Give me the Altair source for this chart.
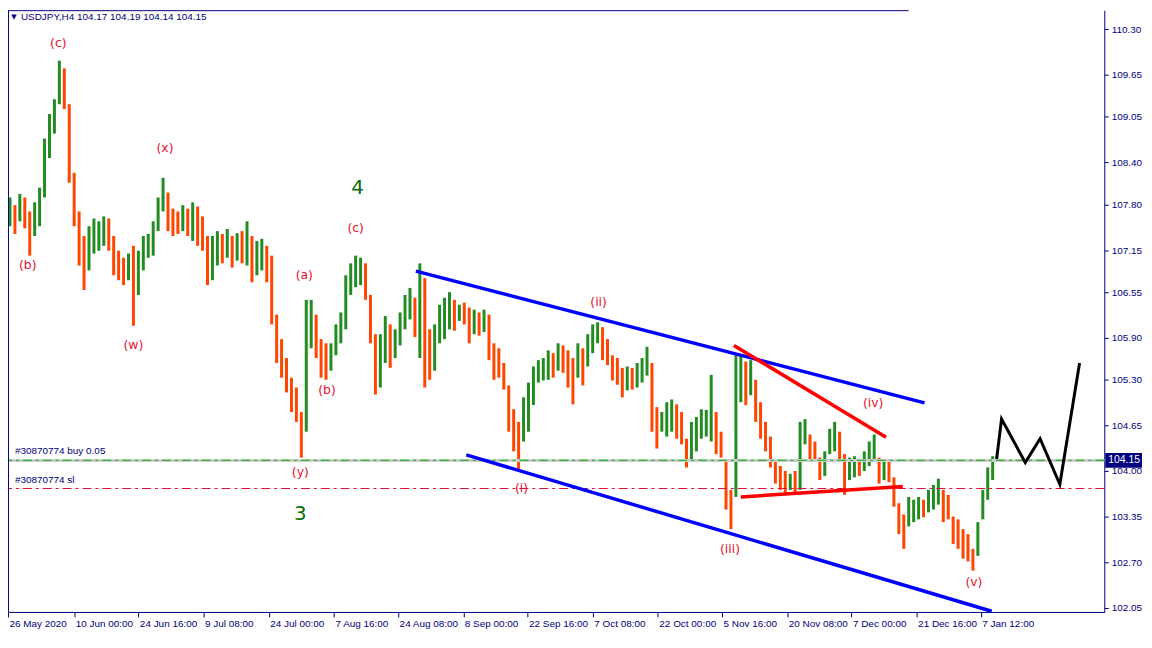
import altair as alt
import pandas as pd

NAVY = "#000080"
FONT = "Liberation Sans"
LFONT = "DejaVu Sans"
W, H = 1104, 606

# ---------------- price bars (USDJPY H4, one bar per 5 H4 periods) ----------------
bar_start = 2
bar_step = 5
highs = [
    107.90, 107.79, 107.95, 107.90, 107.70, 107.83, 108.04, 108.74, 109.09, 109.30,
    109.85, 109.74, 109.23, 108.25, 107.70, 107.35, 107.49, 107.60, 107.56, 107.63,
    107.60, 107.35, 107.14, 107.04, 107.10, 107.21, 107.14, 107.35, 107.38, 107.56,
    107.90, 108.18, 107.97, 107.74, 107.70, 107.79, 107.74, 107.83, 107.77, 107.63,
    107.35, 107.35,
    107.42, 107.38, 107.45, 107.35, 107.39, 107.42, 107.56, 107.35, 107.28, 107.31,
    107.21, 107.07, 106.23, 105.88, 105.61, 105.33, 105.19, 104.84, 106.44, 106.44,
    106.23, 105.88, 105.82, 105.82, 106.09, 106.26, 106.79, 106.96, 107.07, 107.04,
    106.96, 106.51, 105.95, 105.95, 106.21, 106.09, 106.02, 106.26, 106.51, 106.61,
    106.47, 106.96, 106.75, 106.02, 106.09, 106.37, 106.47, 106.55, 106.44, 106.37,
    106.40, 106.33, 106.30, 106.26, 106.30, 106.23, 105.82, 105.75, 105.54, 105.22,
    104.88, 104.70, 105.05, 105.26, 105.49, 105.58, 105.61, 105.72, 105.68, 105.82,
    105.79, 105.72, 105.61, 105.82, 105.75, 105.95, 106.09, 106.12, 106.05,
    105.88, 105.65, 105.61, 105.47, 105.49, 105.47, 105.54, 105.61, 105.77, 105.54,
    104.91, 104.84, 104.98, 105.02, 104.95, 104.84, 104.46, 104.70, 104.77, 104.88,
    104.87, 105.37, 104.84, 104.56, 104.14, 103.73, 105.65, 105.63, 105.56, 105.58,
    105.30, 104.98, 104.70, 104.49, 104.14, 104.07, 104.00, 103.96, 104.00, 104.70,
    104.74,
    104.52, 104.42, 104.19, 104.28, 104.60, 104.70, 104.56, 104.24, 104.19, 104.21,
    104.17, 104.28, 104.42, 104.52, 104.19, 104.14, 104.14, 103.91, 103.54, 103.38,
    103.63, 103.59, 103.63, 103.59, 103.73, 103.80, 103.89, 103.73, 103.66, 103.35,
    103.31, 103.17, 103.10, 102.89, 103.27, 103.73, 104.05, 104.21,
]
lows = [
    107.49, 107.38, 107.56, 107.46, 107.07, 107.35, 107.49, 107.90, 108.46, 108.81,
    109.23, 109.16, 108.11, 107.49, 106.93, 106.58, 106.86, 107.10, 107.14, 107.21,
    107.14, 106.79, 106.72, 106.65, 106.72, 106.07, 106.51, 106.86, 107.04, 107.07,
    107.42, 107.70, 107.42, 107.35, 107.38, 107.42, 107.35, 107.28, 107.21, 107.14,
    106.65, 106.72,
    106.93, 106.96, 107.04, 106.90, 107.00, 106.96, 106.93, 106.69, 106.79, 106.86,
    106.69, 106.09, 105.54, 105.33, 105.12, 104.84, 104.70, 104.19, 104.56, 105.75,
    105.61, 105.33, 105.30, 105.43, 105.65, 105.82, 106.02, 106.51, 106.62, 106.65,
    106.44, 105.82, 105.09, 105.19, 105.54, 105.47, 105.61, 105.79, 106.02, 106.16,
    105.91, 105.61, 105.19, 105.30, 105.43, 105.82, 105.88, 106.02, 106.00, 106.14,
    106.09, 105.82, 105.95, 105.93, 105.98, 105.58, 105.30, 105.33, 105.16, 104.56,
    104.28, 104.00, 104.42, 104.56, 104.94, 105.26, 105.29, 105.30, 105.33, 105.43,
    105.40, 105.19, 104.95, 105.33, 105.22, 105.49, 105.68, 105.82, 105.58,
    105.51, 105.29, 105.23, 105.05, 105.15, 105.16, 105.19, 105.26, 105.36, 104.56,
    104.32, 104.56, 104.49, 104.56, 104.46, 104.38, 104.05, 104.14, 104.28, 104.46,
    104.49, 104.42, 104.24, 104.19, 103.45, 103.17, 103.63, 104.98, 104.94, 105.08,
    104.70, 104.46, 104.28, 104.05, 103.82, 103.73, 103.68, 103.73, 103.68, 103.73,
    104.38,
    104.14, 104.14, 103.87, 103.93, 104.24, 104.28, 104.14, 103.66, 103.87, 103.91,
    103.93, 104.00, 104.07, 104.14, 103.82, 103.87, 103.84, 103.49, 103.10, 102.89,
    103.21, 103.27, 103.31, 103.34, 103.41, 103.45, 103.52, 103.27, 103.31, 102.96,
    102.89, 102.75, 102.71, 102.58, 102.79, 103.31, 103.59, 103.87,
]

# ---------------- axes ----------------
tick_pos = [0, 67, 132, 198, 264, 330, 395, 461, 526, 592, 658, 723, 789, 854, 920, 985]
tick_labels = ["26 May 2020", "10 Jun 00:00", "24 Jun 16:00", "9 Jul 08:00", "24 Jul 00:00",
               "7 Aug 16:00", "24 Aug 08:00", "8 Sep 00:00", "22 Sep 16:00", "7 Oct 08:00",
               "22 Oct 00:00", "5 Nov 16:00", "20 Nov 08:00", "7 Dec 00:00", "21 Dec 16:00",
               "7 Jan 12:00"]
price_ticks = [110.30, 109.65, 109.05, 108.40, 107.80, 107.15, 106.55, 105.90,
               105.30, 104.65, 104.00, 103.35, 102.70, 102.05]

# ---------------- order levels ----------------
header = "USDJPY,H4  104.17 104.19 104.14 104.15"
buy_price = 104.15
sl_price = 103.75
order_text = ["#30870774 buy 0.05", "#30870774 sl"]
order_i = [7, 7]
order_p = [104.28, 103.87]

# ---------------- trend lines ----------------
seg_x1 = [413, 464, 735, 742]
seg_y1 = [106.85, 104.23, 105.79, 103.63]
seg_x2 = [928, 996, 889, 906]
seg_y2 = [104.97, 102.00, 104.48, 103.78]
seg_col = ["#0000FF", "#0000FF", "#FF0000", "#FF0000"]

# projected path
proj_i = [1001, 1006, 1030, 1045, 1065, 1085]
proj_p = [104.17, 104.74, 104.12, 104.46, 103.81, 105.54]

# ---------------- wave labels ----------------
wave_t = ["(c)", "(b)", "(x)", "(w)", "(a)", "(c)", "(b)", "(y)",
          "(i)", "(ii)", "(iii)", "(iv)", "(v)"]
wave_i = [51, 20, 159, 127, 300, 352, 323, 296, 520, 598, 731, 876, 978]
wave_p = [110.10, 106.93, 108.61, 105.79, 106.79, 107.47, 105.15, 103.99,
          103.75, 106.41, 102.88, 104.97, 102.42]
big_t = ["4", "3"]
big_i = [354, 296]
big_p = [108.04, 103.39]

# ---------------- build ----------------
bars = pd.DataFrame({"i": [bar_start + bar_step * k for k in range(len(highs))],
                     "hi": highs, "lo": lows})
mid = (bars["hi"] + bars["lo"]) / 2
bars["dir"] = ["up" if k == 0 or mid[k] >= mid[k - 1] else "down" for k in range(len(bars))]

label_expr = "[" + ",".join(repr(s) for s in tick_labels) + "][indexof([" + \
    ",".join(str(p) for p in tick_pos) + "], datum.value)]"

xs = alt.Scale(domain=[0, 1110], nice=False, zero=False)
ys = alt.Scale(domain=[101.99, 110.57], nice=False, zero=False)
x_axis = alt.Axis(values=tick_pos, labelExpr=label_expr, title=None, grid=False,
                  labelAlign="left", labelBaseline="top", tickSize=5, labelPadding=2,
                  labelOffset=1, domainColor=NAVY, tickColor=NAVY, labelColor=NAVY,
                  labelFont=FONT, labelFontSize=10, labelFlush=False,
                  labelOverlap=False, labelBound=False)
y_axis = alt.Axis(orient="right", values=price_ticks, format=".2f", title=None,
                  grid=False, tickSize=4, labelPadding=3, domainColor=NAVY,
                  tickColor=NAVY, labelColor=NAVY, labelFont=FONT, labelFontSize=10,
                  labelFlush=False, labelOverlap=False, labelBound=False)


def X(f):
    return alt.X(f + ":Q", scale=xs, axis=x_axis)


def Y(f):
    return alt.Y(f + ":Q", scale=ys, axis=y_axis)


one = pd.DataFrame({"a": [0]})

bar_layer = alt.Chart(bars).mark_rule(strokeWidth=3).encode(
    x=X("i"), y=Y("lo"), y2="hi:Q",
    color=alt.Color("dir:N", scale=alt.Scale(domain=["up", "down"],
                                             range=["#228B22", "#FF4500"]), legend=None))

lv = pd.DataFrame({"p": [buy_price]})
gray_line = alt.Chart(lv).mark_rule(color="#CCCCCC", strokeWidth=3).encode(y=Y("p"))
green_line = alt.Chart(lv).mark_rule(color="#33B833", strokeWidth=1.2,
                                     strokeDash=[9, 4, 3, 4]).encode(y=Y("p"))
red_line = alt.Chart(pd.DataFrame({"p": [sl_price]})).mark_rule(
    color="#E0103A", strokeWidth=1.2, strokeDash=[9, 4, 3, 4]).encode(y=Y("p"))

segs = pd.DataFrame({"x1": seg_x1, "y1": seg_y1, "x2": seg_x2, "y2": seg_y2, "c": seg_col})
seg_layer = alt.Chart(segs).mark_rule(strokeWidth=3.5).encode(
    x=X("x1"), y=Y("y1"), x2="x2:Q", y2="y2:Q", color=alt.Color("c:N", scale=None))

proj = pd.DataFrame({"i": proj_i, "p": proj_p})
proj_layer = alt.Chart(proj).mark_line(color="black", strokeWidth=3).encode(
    x=X("i"), y=Y("p"), order="i:Q")

waves = pd.DataFrame({"i": wave_i, "p": wave_p, "t": wave_t})
wave_layer = alt.Chart(waves).mark_text(font=LFONT, fontSize=12.5, color="#E8112D").encode(
    x=X("i"), y=Y("p"), text="t:N")
big = pd.DataFrame({"i": big_i, "p": big_p, "t": big_t})
big_layer = alt.Chart(big).mark_text(font=LFONT, fontSize=20, color="#0B6B0B").encode(
    x=X("i"), y=Y("p"), text="t:N")

orders = pd.DataFrame({"i": order_i, "p": order_p, "t": order_text})
order_layer = alt.Chart(orders).mark_text(font=FONT, fontSize=10, color=NAVY,
                                          align="left").encode(
    x=X("i"), y=Y("p"), text="t:N")

head_layer = alt.Chart(pd.DataFrame({"t": [header]})).mark_text(
    font=FONT, fontSize=10, color=NAVY, align="left", baseline="middle").encode(
    x=alt.value(13), y=alt.value(7), text="t:N")
tri_layer = alt.Chart(pd.DataFrame({"t": ["\u25BC"]})).mark_text(
    font=LFONT, fontSize=7, color=NAVY, baseline="middle").encode(
    x=alt.value(6), y=alt.value(7), text="t:N")

left_border = alt.Chart(one).mark_rule(color=NAVY, strokeWidth=1).encode(
    x=alt.value(0.5), y=alt.value(0), y2=alt.value(H))
top_border = alt.Chart(one).mark_rule(color=NAVY, strokeWidth=1).encode(
    x=alt.value(0), x2=alt.value(907), y=alt.value(0.5))

box = pd.DataFrame({"top": [buy_price + 0.105], "bot": [buy_price - 0.105],
                    "p": [buy_price], "t": ["%.2f" % buy_price]})
box_layer = alt.Chart(box).mark_rect(color=NAVY).encode(
    x=alt.value(W + 1), x2=alt.value(W + 38), y=Y("top"), y2="bot:Q")
box_text = alt.Chart(box).mark_text(font=FONT, fontSize=10.5, color="white",
                                    align="left").encode(
    x=alt.value(W + 4), y=Y("p"), text="t:N")

chart = alt.layer(
    bar_layer, gray_line, green_line, red_line, seg_layer, proj_layer,
    wave_layer, big_layer, order_layer, head_layer, tri_layer,
    left_border, top_border, box_layer, box_text
).properties(
    width=W, height=H,
    padding={"left": 0, "top": 0, "right": 40, "bottom": 18},
    autosize=alt.AutoSizeParams(type="none"),
    background="white",
).configure_view(stroke=None)

chart.save("out.html", embed_options={"renderer": "svg", "actions": False})
